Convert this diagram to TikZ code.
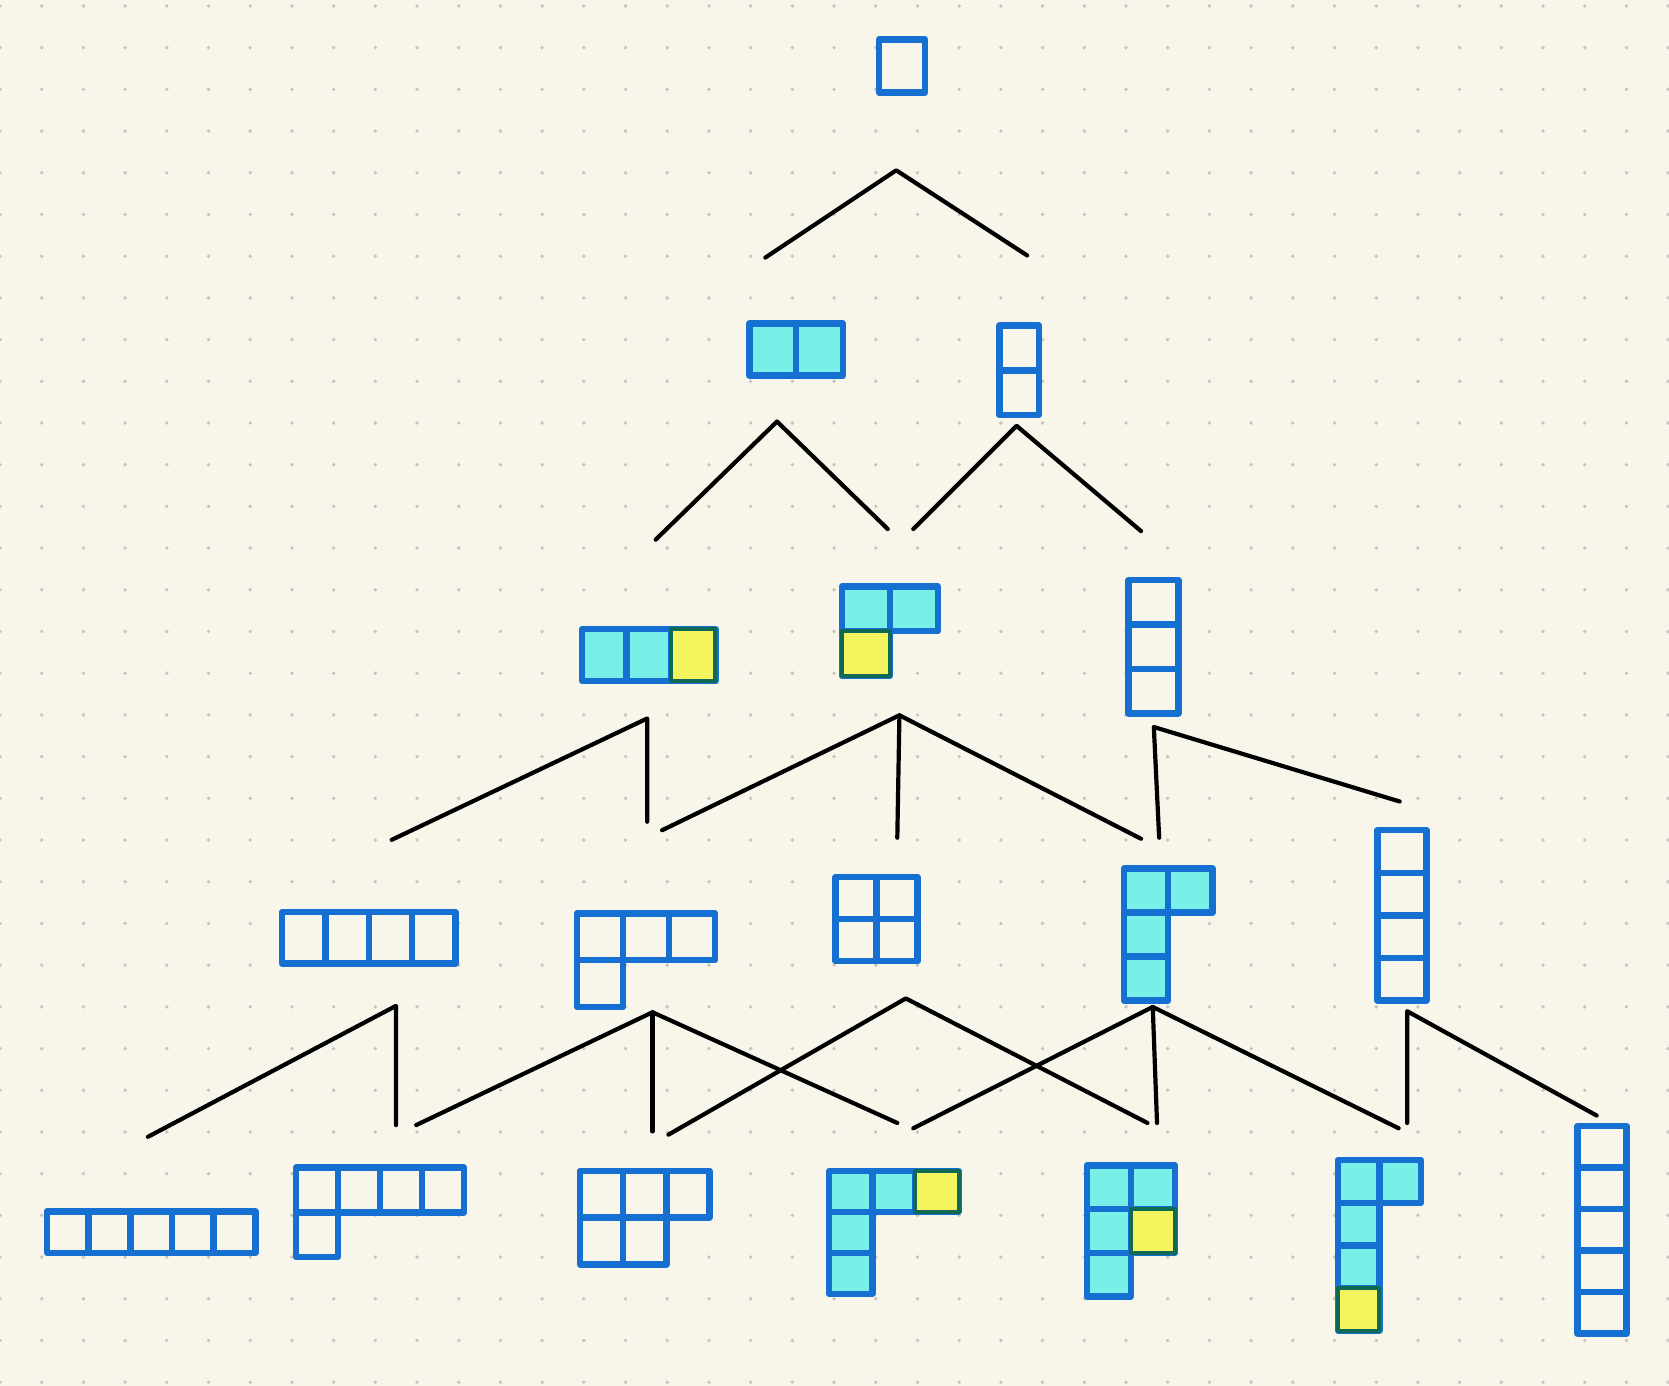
\documentclass[tikz,border=0pt]{standalone}
\definecolor{bg}{HTML}{F8F6EB}
\definecolor{dotc}{HTML}{C9C5BD}
\definecolor{blu}{HTML}{1570D2}
\definecolor{cyn}{HTML}{78EFE7}
\definecolor{yel}{HTML}{F6F45E}
\definecolor{grn}{HTML}{0E6A55}
% #1,#2 origin; #3,#4 cell size; #5 cells c/r/fill; #6 yellow cells c/r
\newcommand\ydiag[6]{%
  \foreach \c/\r/\f in {#5} {\filldraw[cellst,fill=\f] ({#1+\c*#3},{#2+\r*#4}) rectangle ++(#3,#4);}
  \foreach \c/\r in {#6} {\filldraw[yelst] ({#1+\c*#3},{#2+\r*#4}) rectangle ++(#3,#4);}
}
\begin{document}
\begin{tikzpicture}[x=1.0644pt,y=-1.0644pt,
  cellst/.style={draw=blu,line width=6.5pt,line join=round,line cap=round},
  yelst/.style={draw=grn,line width=4pt,fill=yel,line join=round},
  edge/.style={draw=black,line width=4.2pt,line cap=round,line join=round}]
\fill[bg] (0,0) rectangle (1568,1302);
\useasboundingbox (0,0) rectangle (1568,1302);
\foreach \i in {0,...,40} \foreach \j in {0,...,33} \fill[dotc] ({\i*39.18},{5.6+\j*39.18}) circle (1.8);

% level 1
\ydiag{826}{37}{43}{50}{0/0/bg}{}
% level 2
\ydiag{704}{304}{44}{49}{0/0/cyn,1/0/cyn}{}
\ydiag{939}{306}{37}{42}{0/0/bg,0/1/bg}{}
% level 3
\ydiag{547}{591}{41.7}{49}{0/0/cyn,1/0/cyn,2/0/cyn}{2/0}
\ydiag{791}{551}{45}{42}{0/0/cyn,1/0/cyn,0/1/cyn}{0/1}
\ydiag{1060}{545}{47}{41.7}{0/0/bg,0/1/bg,0/2/bg}{}
% level 4
\ydiag{265}{857}{40.75}{48}{0/0/bg,1/0/bg,2/0/bg,3/0/bg}{}
\ydiag{542}{858}{43.3}{44}{0/0/bg,1/0/bg,2/0/bg,0/1/bg}{}
\ydiag{785}{824}{38.5}{39.5}{0/0/bg,1/0/bg,0/1/bg,1/1/bg}{}
\ydiag{1056}{816}{41.5}{41.3}{0/0/cyn,1/0/cyn,0/1/cyn,0/2/cyn}{}
\ydiag{1294}{780}{46}{40}{0/0/bg,0/1/bg,0/2/bg,0/3/bg}{}
% level 5
\ydiag{44}{1138}{39.2}{39}{0/0/bg,1/0/bg,2/0/bg,3/0/bg,4/0/bg}{}
\ydiag{278}{1097}{39.5}{42}{0/0/bg,1/0/bg,2/0/bg,3/0/bg,0/1/bg}{}
\ydiag{545}{1100}{40.5}{44}{0/0/bg,1/0/bg,2/0/bg,0/1/bg,1/1/bg}{}
\ydiag{779}{1100}{40.5}{38.5}{0/0/cyn,1/0/cyn,2/0/cyn,0/1/cyn,0/2/cyn}{2/0}
\ydiag{1021}{1095}{41.5}{41}{0/0/cyn,1/0/cyn,0/1/cyn,1/1/cyn,0/2/cyn}{1/1}
\ydiag{1257}{1090}{39}{40}{0/0/cyn,1/0/cyn,0/1/cyn,0/2/cyn,0/3/cyn}{0/3}
\ydiag{1482}{1058}{46}{39}{0/0/bg,0/1/bg,0/2/bg,0/3/bg,0/4/bg}{}

% connector coordinates
\coordinate (t1) at (842,160); \coordinate (a1) at (719,242); \coordinate (b1) at (965,240);
\coordinate (t2a) at (730,396); \coordinate (a2) at (616,507); \coordinate (b2) at (834,497);
\coordinate (t2b) at (955,400); \coordinate (c2) at (858,497); \coordinate (d2) at (1072,499);
\coordinate (t3a) at (608,675); \coordinate (e3) at (368,789); \coordinate (f3) at (608,772);
\coordinate (t3b) at (845,672); \coordinate (g3) at (622,780); \coordinate (h3) at (843,787); \coordinate (i3) at (1072,788);
\coordinate (t3c) at (1084,683); \coordinate (j3) at (1089,787); \coordinate (k3) at (1315,753);
\coordinate (t4a) at (372,945); \coordinate (l4) at (139,1068); \coordinate (m4) at (372,1057);
\coordinate (t4b) at (613,951); \coordinate (n4) at (391,1057); \coordinate (o4) at (613,1063); \coordinate (p4) at (843,1055);
\coordinate (t4c) at (851,938); \coordinate (q4) at (628,1066); \coordinate (r4) at (1078,1055);
\coordinate (t4d) at (1083,946); \coordinate (s4) at (858,1060); \coordinate (u4) at (1087,1055); \coordinate (v4) at (1314,1060);
\coordinate (t4e) at (1322,950); \coordinate (w4) at (1322,1055); \coordinate (z4) at (1500,1048);

\draw[edge] (a1) -- (t1) -- (b1);
\draw[edge] (a2) -- (t2a) -- (b2);
\draw[edge] (c2) -- (t2b) -- (d2);
\draw[edge] (e3) -- (t3a) -- (f3);
\draw[edge] (g3) -- (t3b) -- (i3);
\draw[edge] (t3b) -- (h3);
\draw[edge] (j3) -- (t3c) -- (k3);
\draw[edge] (l4) -- (t4a) -- (m4);
\draw[edge] (n4) -- (t4b) -- (p4);
\draw[edge] (t4b) -- (o4);
\draw[edge] (q4) -- (t4c) -- (r4);
\draw[edge] (s4) -- (t4d) -- (v4);
\draw[edge] (t4d) -- (u4);
\draw[edge] (w4) -- (t4e) -- (z4);
\end{tikzpicture}
\end{document}
